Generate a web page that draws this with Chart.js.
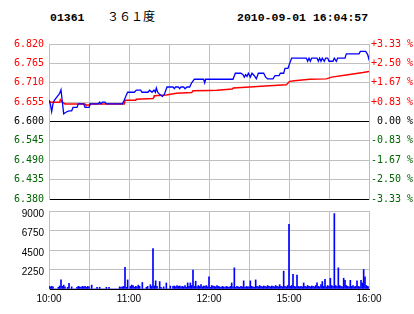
<!DOCTYPE html>
<html>
<head>
<meta charset="utf-8">
<script src="https://cdn.jsdelivr.net/npm/chart.js@4"></script>
<style>
  body { margin: 0; background: #fff; width: 414px; height: 314px; position: relative; overflow: hidden; }
  .hd { position: absolute; top: 10.5px; font: bold 11.5px "Liberation Mono", monospace; line-height: 13px; color: #000; white-space: pre; }
  #nm { font: 12px "Noto Sans CJK SC", sans-serif; line-height: 13px; top: 8.5px; }
  #c1 { position: absolute; left: 0; top: 0; }
  #c2 { position: absolute; left: 0; top: 200px; }
</style>
</head>
<body>
<div class="hd" style="left:50px">01361</div>
<div class="hd" id="nm" style="left:107px">３６１度</div>
<div class="hd" style="left:237px">2010-09-01 16:04:57</div>
<canvas id="c1" width="414" height="210"></canvas>
<canvas id="c2" width="414" height="114"></canvas>
<script>
// minutes since 10:00 (lunch break skipped: 12:30 -> 14:30)
const timeTicks = [0, 30, 60, 90, 120, 150, 180, 210, 240];
const timeLabels = ['10:00', '', '11:00', '', '12:00', '', '15:00', '', '16:00'];

const prevClose = 6.60;
const priceTicks = [6.38, 6.435, 6.49, 6.545, 6.6, 6.655, 6.71, 6.765, 6.82];
const volTicks = [0, 2250, 4500, 6750, 9000];

// [minute, price]
const pricePoints = [
  [0, 6.660], [1, 6.650], [2, 6.628], [3, 6.650], [4, 6.660], [6, 6.670], [8, 6.680], [9, 6.690],
  [11, 6.622], [13, 6.627], [15, 6.630], [17, 6.630], [18, 6.640], [21, 6.640], [22, 6.650],
  [26, 6.650], [27, 6.640], [30, 6.640], [31, 6.650], [37, 6.650], [38, 6.655], [39, 6.650],
  [40, 6.655], [42, 6.655], [43, 6.650], [55, 6.650], [56, 6.657], [58, 6.675], [59, 6.683],
  [64, 6.683], [65.5, 6.689], [68.75, 6.689], [69.75, 6.683], [74.25, 6.683], [75.5, 6.689],
  [77.25, 6.683], [78.75, 6.689], [79.75, 6.683], [80.5, 6.695], [81.5, 6.683], [83, 6.677],
  [85, 6.671], [86.5, 6.677], [88.5, 6.698], [93, 6.698], [94, 6.693], [95, 6.698], [97, 6.698],
  [98, 6.693], [99, 6.698], [101, 6.698], [102, 6.693], [103.5, 6.698], [105.5, 6.698],
  [107, 6.710], [109, 6.720], [116, 6.720], [116.75, 6.710], [117.5, 6.720], [138, 6.720],
  [139.75, 6.737], [144, 6.737], [145.5, 6.733], [146.5, 6.726], [147.5, 6.733], [148.5, 6.728],
  [149.5, 6.737], [151, 6.726], [152.25, 6.737], [154, 6.730], [155.5, 6.721], [157, 6.737],
  [161, 6.737], [162.5, 6.726], [164, 6.721], [168, 6.721], [169.5, 6.730], [172.5, 6.730],
  [173.5, 6.737], [176, 6.737], [177, 6.751], [179.25, 6.751], [180.5, 6.765], [182, 6.780],
  [193, 6.780], [194, 6.771], [195, 6.780], [196, 6.771], [197, 6.780], [201, 6.780],
  [202, 6.771], [203, 6.780], [204, 6.771], [205, 6.780], [206.5, 6.771], [207.5, 6.780],
  [209, 6.780], [210, 6.771], [213, 6.771], [214, 6.780], [215.5, 6.771], [216.5, 6.780],
  [222, 6.780], [223, 6.792], [232.5, 6.792], [233.5, 6.799], [237.5, 6.799], [239, 6.790],
  [239.7, 6.780], [240, 6.787]
];

// [minute, average price]
const avgPoints = [
  [0, 6.659], [1, 6.655], [8, 6.655], [8.5, 6.662], [10, 6.655], [12, 6.650], [27, 6.650],
  [27.5, 6.647], [30, 6.647], [30.5, 6.650], [56.5, 6.650], [57, 6.660], [65, 6.660],
  [65.5, 6.663], [78, 6.665], [78.75, 6.670], [79, 6.673], [88, 6.675], [95.5, 6.680],
  [107, 6.682], [108, 6.687], [120, 6.688], [126, 6.689], [137.5, 6.692], [138.25, 6.695],
  [150.5, 6.698], [162, 6.701], [178, 6.704], [180.5, 6.714], [184, 6.716], [195.5, 6.720],
  [208, 6.721], [212, 6.726], [223, 6.732], [235.5, 6.739], [240, 6.742]
];

// volume per minute, minute 0..240
const volumes = [
  300, 250, 300, 250, 0, 0, 0, 200, 350, 1050,
  300, 450, 250, 0, 200, 640, 0, 250, 0, 0,
  0, 200, 300, 250, 200, 300, 250, 300, 200, 300,
  250, 0, 450, 0, 0, 0, 200, 0, 200, 0,
  0, 0, 0, 200, 0, 200, 0, 0, 0, 0,
  0, 0, 0, 250, 200, 250, 300, 2510, 200, 1050,
  0, 300, 450, 400, 200, 300, 250, 450, 300, 0,
  750, 0, 0, 200, 300, 0, 500, 300, 4650, 350,
  940, 300, 0, 860, 200, 0, 250, 0, 700, 0,
  0, 350, 0, 300, 350, 250, 400, 300, 350, 250,
  300, 250, 400, 200, 700, 300, 700, 400, 2175, 300,
  900, 250, 400, 300, 500, 250, 350, 300, 400, 250,
  1390, 200, 400, 350, 300, 250, 400, 300, 250, 200,
  300, 250, 200, 300, 250, 200, 300, 700, 250, 2440,
  200, 300, 250, 200, 300, 250, 940, 200, 300, 250,
  250, 940, 300, 250, 200, 1050, 300, 250, 400, 300,
  250, 350, 300, 250, 400, 300, 250, 350, 300, 250,
  400, 300, 250, 500, 300, 250, 2060, 300, 250, 400,
  7460, 300, 400, 1690, 300, 250, 1610, 300, 250, 300,
  250, 700, 300, 250, 400, 300, 250, 350, 300, 250,
  400, 700, 300, 250, 500, 860, 300, 1125, 250, 400,
  300, 1240, 400, 300, 8700, 400, 300, 2440, 400, 300,
  250, 1240, 1000, 400, 300, 250, 1000, 300, 400, 250,
  300, 940, 300, 250, 1000, 700, 2250, 1390, 400, 300,
  250
];

function sideColor(v) {
  if (v > prevClose + 1e-9) return '#FF0000';
  if (v < prevClose - 1e-9) return '#006400';
  return '#000000';
}

function pctLabel(v) {
  const p = (v - prevClose) / prevClose * 100;
  const sign = Math.abs(p) < 1e-6 ? ' ' : (p > 0 ? '+' : '-');
  return sign + Math.abs(p).toFixed(2) + ' %';
}

const gridGray = '#C0C0C0';
const monoFont = { family: 'DejaVu Sans Mono', size: 10 };
const sansFont = { family: 'Liberation Sans', size: 10 };

new Chart(document.getElementById('c1'), {
  type: 'line',
  data: {
    datasets: [{
      data: pricePoints.map(p => ({ x: p[0], y: p[1] })),
      borderColor: '#0000FF',
      borderWidth: 1.3
    }, {
      data: avgPoints.map(p => ({ x: p[0], y: p[1] })),
      borderColor: '#FF0000',
      borderWidth: 1.5
    }]
  },
  options: {
    responsive: false,
    animation: false,
    layout: { padding: { top: 44, bottom: 6, left: 0, right: 0 } },
    elements: { point: { radius: 0 }, line: { tension: 0, fill: false } },
    plugins: { legend: { display: false }, tooltip: { enabled: false } },
    scales: {
      x: {
        type: 'linear', min: 0, max: 240,
        afterBuildTicks: s => { s.ticks = timeTicks.map(v => ({ value: v })); },
        afterFit: s => { s.height = 0; },
        ticks: { display: false },
        grid: { color: gridGray, drawTicks: false },
        border: { display: false }
      },
      y: {
        position: 'left', min: 6.38, max: 6.82,
        afterBuildTicks: s => { s.ticks = priceTicks.map(v => ({ value: v })); },
        afterFit: s => { s.width = 49; },
        ticks: {
          padding: 5, font: monoFont,
          color: ctx => sideColor(ctx.tick.value),
          callback: v => v.toFixed(3)
        },
        grid: {
          drawTicks: false,
          color: ctx => (ctx.tick.value === 6.6 || ctx.tick.value === 6.38) ? '#000000' : gridGray
        },
        border: { color: gridGray }
      },
      y2: {
        position: 'right', min: 6.38, max: 6.82,
        afterBuildTicks: s => { s.ticks = priceTicks.map(v => ({ value: v })); },
        afterFit: s => { s.width = 45; },
        ticks: {
          padding: 2, font: monoFont,
          color: ctx => sideColor(ctx.tick.value),
          callback: v => pctLabel(v)
        },
        grid: { display: false, drawTicks: false },
        border: { color: gridGray }
      }
    }
  }
});

new Chart(document.getElementById('c2'), {
  type: 'bar',
  data: {
    datasets: [{
      data: volumes.map((v, i) => ({ x: i, y: v })),
      backgroundColor: '#0000FF',
      barThickness: 1
    }]
  },
  options: {
    responsive: false,
    animation: false,
    layout: { padding: { top: 9, right: 45, left: 0, bottom: 0 } },
    plugins: { legend: { display: false }, tooltip: { enabled: false } },
    scales: {
      x: {
        type: 'linear', min: 0, max: 240, offset: false,
        afterBuildTicks: s => { s.ticks = timeTicks.map(v => ({ value: v })); },
        afterFit: s => { s.height = 25; },
        ticks: {
          padding: 4, maxRotation: 0, autoSkip: false, font: sansFont, color: '#000',
          callback: (v, i) => timeLabels[i]
        },
        grid: { color: gridGray, drawTicks: false, offset: false },
        border: { color: '#000000' }
      },
      y: {
        min: 0, max: 9000,
        afterBuildTicks: s => { s.ticks = volTicks.map(v => ({ value: v })); },
        afterFit: s => { s.width = 49; },
        ticks: {
          padding: 5, labelOffset: 3, font: sansFont, color: '#000',
          callback: v => v === 0 ? '' : String(v)
        },
        grid: {
          drawTicks: false,
          color: ctx => ctx.tick.value === 0 ? '#000000' : gridGray
        },
        border: { color: gridGray }
      }
    }
  }
});
</script>
</body>
</html>
